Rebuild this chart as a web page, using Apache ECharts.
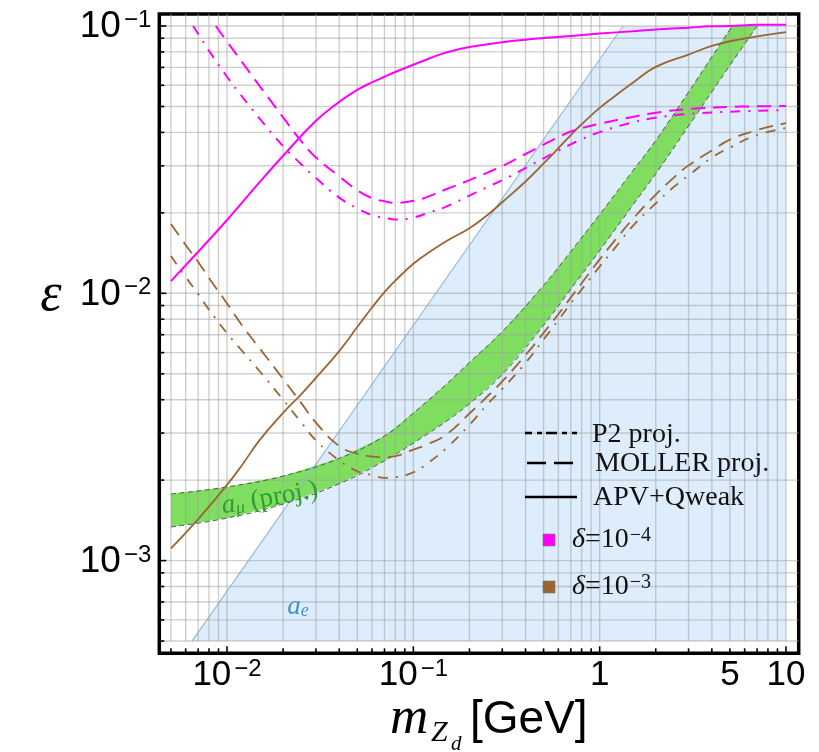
<!DOCTYPE html>
<html>
<head>
<meta charset="utf-8">
<script src="https://cdn.jsdelivr.net/npm/echarts@6/dist/echarts.min.js"></script>
<style>html,body{margin:0;padding:0;background:#fff}#c{width:819px;height:752px}</style>
</head>
<body>
<div id="c"></div>
<script>
// ---- axis ranges ----
const X_MIN = 0.00433, X_MAX = 11.7, Y_MIN = 4.5e-4, Y_MAX = 0.1109;
const GRID_X_LO = 0.005, GRID_X_HI = 10, GRID_Y_LO = 5e-4, GRID_Y_HI = 0.1;

// ---- tick labels ----
const xTickVals = [0.01, 0.1, 1, 5, 10];
const xTickText = ['{b|10}{s|\u22122}', '{b|10}{s|\u22121}', '{b|1}', '{b|5}', '{b|10}'];
const yTickVals = [0.001, 0.01, 0.1];
const yTickText = ['{b|10}{s|\u22123}', '{b|10}{s|\u22122}', '{b|10}{s|\u22121}'];
const mantissas = [1, 2, 3, 4, 5, 6, 7, 8, 9];
const decades = [1e-4, 1e-3, 1e-2, 1e-1, 1, 10];

// ---- a_e excluded region ----
const aeRegionX = [0.00649, 1.335, 10, 10];
const aeRegionY = [5e-4, 0.1, 0.1, 5e-4];

// ---- a_mu (proj.) band ----
const bandUpX = [0.005, 0.01, 0.02, 0.04, 0.07, 0.1, 0.15, 0.2, 0.3, 0.5, 0.7, 1, 1.5, 2, 3, 4, 5, 5.15];
const bandUpY = [0.001775, 0.001886, 0.002072, 0.002414, 0.002925, 0.003566, 0.004566, 0.005513, 0.007195, 0.010705, 0.014345, 0.01972, 0.02862, 0.03733, 0.05662, 0.07669, 0.09694, 0.1];
const bandLoX = [0.005, 0.01, 0.02, 0.04, 0.07, 0.1, 0.15, 0.2, 0.3, 0.5, 0.7, 1, 1.5, 2, 3, 4, 5, 7];
const bandLoY = [0.001336, 0.001443, 0.001628, 0.001938, 0.002362, 0.002752, 0.003317, 0.003864, 0.00497, 0.007592, 0.010377, 0.014458, 0.02129, 0.02801, 0.04222, 0.05672, 0.07124, 0.1];

// ---- delta = 1e-4 (magenta) ----
const mSolidX = [0.005, 0.007, 0.01, 0.015, 0.02, 0.03, 0.04, 0.05, 0.06, 0.07, 0.08, 0.1, 0.12, 0.15, 0.2, 0.3, 0.4, 0.5, 0.7, 1, 1.5, 2, 3, 4, 5, 7, 10];
const mSolidY = [0.0111, 0.0143, 0.0188, 0.0261, 0.0327, 0.0442, 0.052, 0.0577, 0.0615, 0.0646, 0.0673, 0.0716, 0.0753, 0.0796, 0.0834, 0.0869, 0.0889, 0.0901, 0.0918, 0.0937, 0.0956, 0.097, 0.0986, 0.0997, 0.1, 0.101, 0.101];
const mDashX = [0.0087, 0.01, 0.012, 0.015, 0.02, 0.025, 0.03, 0.04, 0.05, 0.06, 0.07, 0.08, 0.1, 0.12, 0.15, 0.2, 0.25, 0.3, 0.4, 0.5, 0.6, 0.7, 0.8, 1, 1.5, 2, 3, 5, 10];
const mDashY = [0.1, 0.0874, 0.0735, 0.0595, 0.0455, 0.0371, 0.0322, 0.0274, 0.0243, 0.0227, 0.0221, 0.0218, 0.0222, 0.023, 0.0245, 0.0265, 0.0283, 0.0299, 0.0332, 0.036, 0.0384, 0.0403, 0.0415, 0.0431, 0.0457, 0.0474, 0.0489, 0.0498, 0.0502];
const mDotDashX = [0.00657, 0.007, 0.008, 0.01, 0.012, 0.015, 0.02, 0.025, 0.03, 0.04, 0.05, 0.06, 0.07, 0.08, 0.1, 0.12, 0.15, 0.2, 0.25, 0.3, 0.4, 0.5, 0.6, 0.7, 0.8, 1, 1.5, 2, 3, 5, 10];
const mDotDashY = [0.1, 0.0935, 0.0808, 0.0646, 0.0546, 0.0449, 0.0355, 0.0304, 0.027, 0.0228, 0.0208, 0.0196, 0.0192, 0.0189, 0.0192, 0.02, 0.0211, 0.0232, 0.025, 0.0265, 0.0294, 0.032, 0.0342, 0.0361, 0.0377, 0.0401, 0.0436, 0.0454, 0.0469, 0.0478, 0.0485];

// ---- delta = 1e-3 (brown) ----
const bSolidX = [0.005, 0.007, 0.01, 0.012, 0.015, 0.02, 0.025, 0.03, 0.04, 0.05, 0.06, 0.07, 0.08, 0.1, 0.12, 0.15, 0.2, 0.25, 0.3, 0.4, 0.5, 0.6, 0.7, 0.8, 1, 1.2, 1.5, 2, 3, 4, 5, 7, 10];
const bSolidY = [0.00111, 0.00143, 0.00192, 0.00227, 0.00283, 0.00357, 0.00419, 0.00483, 0.00608, 0.00748, 0.00885, 0.0101, 0.01115, 0.0129, 0.01415, 0.01565, 0.01752, 0.01963, 0.02192, 0.0262, 0.0306, 0.0349, 0.0391, 0.0429, 0.0494, 0.0545, 0.0612, 0.0703, 0.0782, 0.0842, 0.0877, 0.0914, 0.0948];
const bDashX = [0.005, 0.006, 0.007, 0.008, 0.01, 0.012, 0.015, 0.02, 0.025, 0.03, 0.04, 0.05, 0.06, 0.07, 0.08, 0.1, 0.12, 0.15, 0.2, 0.25, 0.3, 0.4, 0.5, 0.6, 0.7, 0.8, 1, 1.2, 1.5, 2, 2.5, 3, 4, 5, 7, 10];
const bDashY = [0.01817, 0.01516, 0.0131, 0.01141, 0.00916, 0.00761, 0.00621, 0.00478, 0.00389, 0.00328, 0.00268, 0.00251, 0.00245, 0.00244, 0.00246, 0.0026, 0.00273, 0.00296, 0.00355, 0.00412, 0.00468, 0.00587, 0.00711, 0.00835, 0.00964, 0.0109, 0.0134, 0.0157, 0.0189, 0.0234, 0.0271, 0.0301, 0.0342, 0.0376, 0.0408, 0.0433];
const bDotDashX = [0.005, 0.006, 0.007, 0.008, 0.01, 0.012, 0.015, 0.02, 0.025, 0.03, 0.04, 0.05, 0.06, 0.07, 0.08, 0.1, 0.12, 0.15, 0.2, 0.25, 0.3, 0.4, 0.5, 0.6, 0.7, 0.8, 1, 1.2, 1.5, 2, 2.5, 3, 4, 5, 7, 10];
const bDotDashY = [0.01378, 0.01151, 0.00994, 0.00869, 0.00709, 0.00611, 0.0051, 0.004, 0.00329, 0.00282, 0.00237, 0.00216, 0.00209, 0.00204, 0.00205, 0.00214, 0.00232, 0.00263, 0.00322, 0.00385, 0.00439, 0.00549, 0.00672, 0.00794, 0.00917, 0.01033, 0.0126, 0.0147, 0.0178, 0.0217, 0.025, 0.0276, 0.0322, 0.0351, 0.0391, 0.0415];

// ---- annotation anchors ----
const amuLabelPos = [0.017, 0.00171];
const aeLabelPos = [0.024, 0.000671];

// ---- styles ----
const MAGENTA = '#ff00ff', BROWN = '#996633';
const DASH = [14, 8], DOTDASH = [10, 8, 2, 8];
const SANS = '"Liberation Sans", Arial, sans-serif';
const SERIF = '"Liberation Serif", "Times New Roman", serif';

const pairs = (xs, ys) => xs.map((x, i) => [x, ys[i]]);
const gridVals = (lo, hi) => {
  const out = [];
  decades.forEach(d => mantissas.forEach(m => {
    const v = +(m * d).toPrecision(3);
    if (v >= lo * 0.999 && v <= hi * 1.001) out.push(v);
  }));
  return out;
};
const xGrid = gridVals(GRID_X_LO, GRID_X_HI);
const yGrid = gridVals(GRID_Y_LO, GRID_Y_HI);

function polygonSeries(xs, ys, fill, z) {
  return {
    type: 'custom', z: z, silent: true, data: [[1, 0.01]],
    renderItem: (params, api) => ({
      type: 'polygon',
      shape: { points: xs.map((x, i) => api.coord([x, ys[i]])) },
      style: { fill: fill }
    })
  };
}

function lineSeries(xs, ys, color, width, dash, z) {
  return {
    type: 'line', data: pairs(xs, ys), symbol: 'none', smooth: 0.45, z: z, silent: true,
    lineStyle: { color: color, width: width, type: dash || 'solid', cap: 'butt' }
  };
}

const gridSeries = {
  type: 'custom', z: 3, silent: true, data: [[1, 0.01]],
  renderItem: (params, api) => {
    const ch = [];
    const st = { stroke: '#a0a0a0', lineWidth: 1.4, opacity: 0.5 };
    xGrid.forEach(v => {
      const a = api.coord([v, GRID_Y_LO]), b = api.coord([v, Y_MAX]);
      ch.push({ type: 'line', shape: { x1: a[0], y1: a[1], x2: b[0], y2: b[1] }, style: st });
    });
    yGrid.forEach(v => {
      const a = api.coord([X_MIN, v]), b = api.coord([X_MAX, v]);
      ch.push({ type: 'line', shape: { x1: a[0], y1: a[1], x2: b[0], y2: b[1] }, style: st });
    });
    return { type: 'group', children: ch };
  }
};

const richTickY = {
  b: { fontSize: 37, fontFamily: SANS, fill: '#000' },
  s: { fontSize: 24, fontFamily: SANS, fill: '#000', verticalAlign: 'top', padding: [0, 0, 0, 3] }
};
const richTickX = {
  b: { fontSize: 35, fontFamily: SANS, fill: '#000' },
  s: { fontSize: 24, fontFamily: SANS, fill: '#000', verticalAlign: 'top', padding: [0, 0, 0, 3] }
};

const axisSeries = {
  type: 'custom', z: 8, silent: true, data: [[1, 0.01]],
  renderItem: (params, api) => {
    const ch = [];
    const st = { stroke: '#000', lineWidth: 1.6 };
    xGrid.forEach(v => {
      const a = api.coord([v, Y_MIN]);
      const len = xTickVals.indexOf(v) >= 0 && v !== 5 ? 7 : 5;
      ch.push({ type: 'line', shape: { x1: a[0], y1: a[1], x2: a[0], y2: a[1] - len }, style: st });
    });
    yGrid.forEach(v => {
      const a = api.coord([X_MIN, v]);
      const len = yTickVals.indexOf(v) >= 0 ? 7 : 5;
      ch.push({ type: 'line', shape: { x1: a[0], y1: a[1], x2: a[0] + len, y2: a[1] }, style: st });
    });
    xTickVals.forEach((v, i) => {
      const a = api.coord([v, Y_MIN]);
      ch.push({ type: 'text', x: a[0], y: a[1] + 22,
        style: { text: xTickText[i], rich: richTickX, align: 'center', verticalAlign: 'middle', fill: '#000' } });
    });
    yTickVals.forEach((v, i) => {
      const a = api.coord([X_MIN, v]);
      ch.push({ type: 'text', x: a[0] - 8, y: a[1] + 1,
        style: { text: yTickText[i], rich: richTickY, align: 'right', verticalAlign: 'middle', fill: '#000' } });
    });
    return { type: 'group', children: ch };
  }
};

const AMU_GREEN = '#2e9e2e', AE_BLUE = '#4a8fd0';
const annotSeries = {
  type: 'custom', z: 7, silent: true, data: [[1, 0.01]],
  renderItem: (params, api) => {
    const p1 = api.coord(amuLabelPos), p2 = api.coord(aeLabelPos);
    return { type: 'group', children: [
      { type: 'text', x: p1[0], y: p1[1], rotation: 0.17,
        style: { text: '{a|a}{m|\u03bc}{p| (proj.)}', align: 'center', verticalAlign: 'middle',
          rich: {
            a: { fontSize: 27, fontFamily: SERIF, fontStyle: 'italic', fill: AMU_GREEN },
            m: { fontSize: 18, fontFamily: SERIF, fontStyle: 'italic', fill: AMU_GREEN, verticalAlign: 'bottom' },
            p: { fontSize: 27, fontFamily: SERIF, fill: AMU_GREEN }
          } } },
      { type: 'text', x: p2[0], y: p2[1],
        style: { text: '{a|a}{e|e}', align: 'center', verticalAlign: 'middle',
          rich: {
            a: { fontSize: 27, fontFamily: SERIF, fontStyle: 'italic', fill: AE_BLUE },
            e: { fontSize: 18, fontFamily: SERIF, fontStyle: 'italic', fill: AE_BLUE, verticalAlign: 'bottom' }
          } } }
    ] };
  }
};

const deltaRich = {
  d: { fontSize: 28, fontFamily: SERIF, fontStyle: 'italic', fill: '#111' },
  n: { fontSize: 28, fontFamily: SERIF, fill: '#111' },
  s: { fontSize: 20, fontFamily: SERIF, fill: '#111', verticalAlign: 'top', padding: [0, 0, 0, 1] }
};

const legendGraphics = [
  { type: 'line', z: 20, shape: { x1: 525, y1: 433, x2: 577, y2: 433 }, style: { stroke: '#000', lineWidth: 2.4, lineDash: [7, 5, 5, 4, 11, 5, 5, 5, 5] } },
  { type: 'line', z: 20, shape: { x1: 527, y1: 463, x2: 574, y2: 463 }, style: { stroke: '#000', lineWidth: 2.6, lineDash: [19, 8] } },
  { type: 'line', z: 20, shape: { x1: 525, y1: 497, x2: 577, y2: 497 }, style: { stroke: '#000', lineWidth: 2.6 } },
  { type: 'text', z: 20, x: 592, y: 435, style: { text: 'P2 proj.', font: '28px ' + SERIF, fill: '#111', align: 'left', verticalAlign: 'middle' } },
  { type: 'text', z: 20, x: 595, y: 464, style: { text: 'MOLLER proj.', font: '28px ' + SERIF, fill: '#111', align: 'left', verticalAlign: 'middle' } },
  { type: 'text', z: 20, x: 593, y: 498, style: { text: 'APV+Qweak', font: '28px ' + SERIF, fill: '#111', align: 'left', verticalAlign: 'middle' } },
  { type: 'rect', z: 20, shape: { x: 543, y: 534, width: 12, height: 12 }, style: { fill: MAGENTA, stroke: '#777', lineWidth: 0.6 } },
  { type: 'rect', z: 20, shape: { x: 543, y: 581, width: 12, height: 12 }, style: { fill: BROWN, stroke: '#777', lineWidth: 0.6 } },
  { type: 'text', z: 20, x: 572, y: 540, style: { text: '{d|\u03b4}{n|=10}{s|\u22124}', align: 'left', verticalAlign: 'middle', rich: deltaRich } },
  { type: 'text', z: 20, x: 572, y: 587, style: { text: '{d|\u03b4}{n|=10}{s|\u22123}', align: 'left', verticalAlign: 'middle', rich: deltaRich } },
  // axis titles
  { type: 'text', z: 20, x: 51, y: 296, style: { text: '\u03b5', font: 'italic 54px ' + SERIF, fill: '#000', align: 'center', verticalAlign: 'middle' } },
  { type: 'text', z: 20, x: 390, y: 719, style: { text: 'm', font: 'italic 53px ' + SERIF, fill: '#000', align: 'left', verticalAlign: 'middle' } },
  { type: 'text', z: 20, x: 431, y: 733, style: { text: 'Z', font: 'italic 30px ' + SERIF, fill: '#000', align: 'left', verticalAlign: 'middle' } },
  { type: 'text', z: 20, x: 451, y: 744, style: { text: 'd', font: 'italic 21px ' + SERIF, fill: '#000', align: 'left', verticalAlign: 'middle' } },
  { type: 'text', z: 20, x: 470, y: 720, style: { text: '[GeV]', font: '46px ' + SANS, fill: '#000', align: 'left', verticalAlign: 'middle' } }
];

const bandX = bandUpX.concat(bandLoX.slice().reverse());
const bandY = bandUpY.concat(bandLoY.slice().reverse());

const chart = echarts.init(document.getElementById('c'), null, { renderer: 'canvas' });
chart.setOption({
  animation: false,
  backgroundColor: '#fff',
  grid: { left: 159.3, right: 20.3, top: 14, bottom: 98.7, show: true, borderColor: '#000', borderWidth: 3.5, backgroundColor: 'transparent', containLabel: false },
  xAxis: { type: 'log', logBase: 10, min: X_MIN, max: X_MAX,
    axisLine: { show: false }, axisTick: { show: false }, axisLabel: { show: false }, splitLine: { show: false }, minorSplitLine: { show: false } },
  yAxis: { type: 'log', logBase: 10, min: Y_MIN, max: Y_MAX,
    axisLine: { show: false }, axisTick: { show: false }, axisLabel: { show: false }, splitLine: { show: false }, minorSplitLine: { show: false } },
  graphic: legendGraphics,
  series: [
    polygonSeries(aeRegionX, aeRegionY, '#ddedfb', 1),
    lineSeries(aeRegionX.slice(0, 2), aeRegionY.slice(0, 2), '#8fb9df', 1.1, null, 2),
    polygonSeries(bandX, bandY, '#7fdd60', 2),
    gridSeries,
    lineSeries(bandUpX, bandUpY, '#4a5e4a', 1, [5, 3.5], 4),
    lineSeries(bandLoX, bandLoY, '#4a5e4a', 1, [5, 3.5], 4),
    lineSeries(bSolidX, bSolidY, BROWN, 1.8, null, 5),
    lineSeries(bDashX, bDashY, BROWN, 1.8, DASH, 5),
    lineSeries(bDotDashX, bDotDashY, BROWN, 1.8, DOTDASH, 5),
    lineSeries(mSolidX, mSolidY, MAGENTA, 2, null, 6),
    lineSeries(mDashX, mDashY, MAGENTA, 2, DASH, 6),
    lineSeries(mDotDashX, mDotDashY, MAGENTA, 2, DOTDASH, 6),
    annotSeries,
    axisSeries
  ]
});
</script>
</body>
</html>
